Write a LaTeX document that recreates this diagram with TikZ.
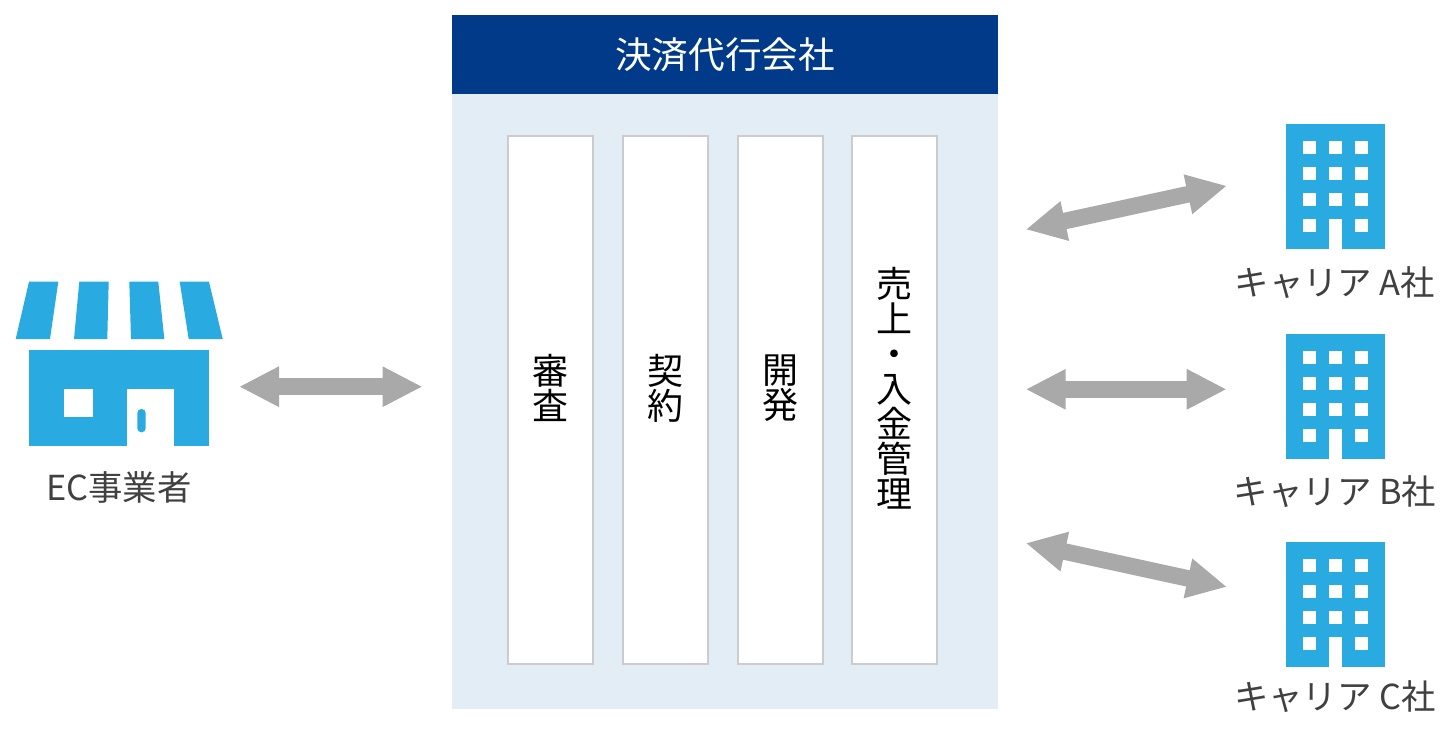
\documentclass[tikz,border=0pt]{standalone}
\usepackage{fontspec}
\setmainfont{Noto Sans CJK JP}
\usepackage{xcolor}
\definecolor{Navy}{HTML}{003A88}
\definecolor{PalePanel}{HTML}{E3EDF6}
\definecolor{Sky}{HTML}{29ABE2}
\definecolor{ArrowGray}{HTML}{A9A9A9}
\definecolor{Edge}{HTML}{CCCCCC}
\definecolor{Ink}{HTML}{404040}
\usetikzlibrary{arrows.meta,positioning}
\tikzset{
  panelhead/.style={fill=Navy,text=white,minimum width=273pt,minimum height=39.5pt,inner sep=0pt,font=\fontsize{18.3}{18.3}\selectfont},
  panelbody/.style={fill=PalePanel,minimum width=273pt,minimum height=307.5pt,inner sep=0pt},
  workbox/.style={draw=Edge,fill=white,line width=1pt,minimum width=42.5pt,minimum height=264pt,inner sep=0pt},
  worktext/.style={align=center,inner sep=0pt,font=\fontsize{18}{17.5}\selectfont},
  iconlabel/.style={text=Ink,inner sep=0pt,font=\fontsize{17.2}{17.2}\selectfont},
  linkarrow/.style={{Triangle[length=20pt,width=18.8pt]}-{Triangle[length=20pt,width=18.8pt]},draw=ArrowGray,fill=ArrowGray,line width=8.3pt},
  building/.pic={
    \fill[Sky] (0,0) rectangle (99.5,125);
    \foreach \wx in {17.5,43.5,69} \foreach \wy in {17,43,69} \fill[white] (\wx,\wy) rectangle ++(13,13);
    \fill[white] (17.5,95) rectangle ++(13,13);
    \fill[white] (69,95) rectangle ++(13,13);
    \fill[white] (43.5,95) rectangle (56.5,125);
  },
}
\begin{document}
\begin{tikzpicture}[x=0.5pt,y=-0.5pt]
\useasboundingbox (0,0) rectangle (1440,744);
% centre panel
\node[panelbody] (body) at (725,401.5) {};
\node[panelhead] (head) at (725,54.5) {決済代行会社};
\foreach \nm/\cx/\txt in {shinsa/550.5/審\\査,keiyaku/665/契\\約,kaihatsu/780/開\\発,uriage/894.5/売\\上\\・\\入\\金\\管\\理}{
  \node[workbox] (\nm) at (\cx,400) {};
  \node[worktext] (\nm t) at (\cx,388) {\txt};
}
% store
\fill[Sky] (29,281.7)--(58.3,281.7)--(50,339)--(15.7,339)--cycle;
\fill[Sky] (79.3,281.7)--(108.7,281.7)--(107.3,339)--(74,339)--cycle;
\fill[Sky] (129.3,281.7)--(158.3,281.7)--(164.3,339)--(131,339)--cycle;
\fill[Sky] (179.7,281.7)--(209,281.7)--(222.7,339)--(188.7,339)--cycle;
\fill[Sky] (29,350) rectangle (209,445.7);
\fill[white] (64,389) rectangle (92.7,417);
\fill[white] (127,389) rectangle (174,445.7);
\fill[Sky,rounded corners=2pt] (137.3,409) rectangle (145.7,432.3);
\node[iconlabel] (store) at (119,487) {EC事業者};
% carriers
\foreach \nm/\ty/\ly in {A/124/283,B/334.3/492,C/542/697}{
  \pic at (1285.7,\ty) {building};
  \node[iconlabel] (carrier\nm) at (1335,\ly) {キャリア \nm 社};
}
% arrows
\coordinate (storeout) at (239,386.7);
\coordinate (panelin) at (422.5,386.7);
\coordinate (panelA) at (1025.7,229.5);
\coordinate (endA) at (1227,185.8);
\coordinate (panelB) at (1025.7,389.3);
\coordinate (endB) at (1226.7,389.3);
\coordinate (panelC) at (1025.7,543.1);
\coordinate (endC) at (1227,586.9);
\draw[linkarrow] (storeout)--(panelin);
\draw[linkarrow] (panelA)--(endA);
\draw[linkarrow] (panelB)--(endB);
\draw[linkarrow] (panelC)--(endC);
\end{tikzpicture}
\end{document}
